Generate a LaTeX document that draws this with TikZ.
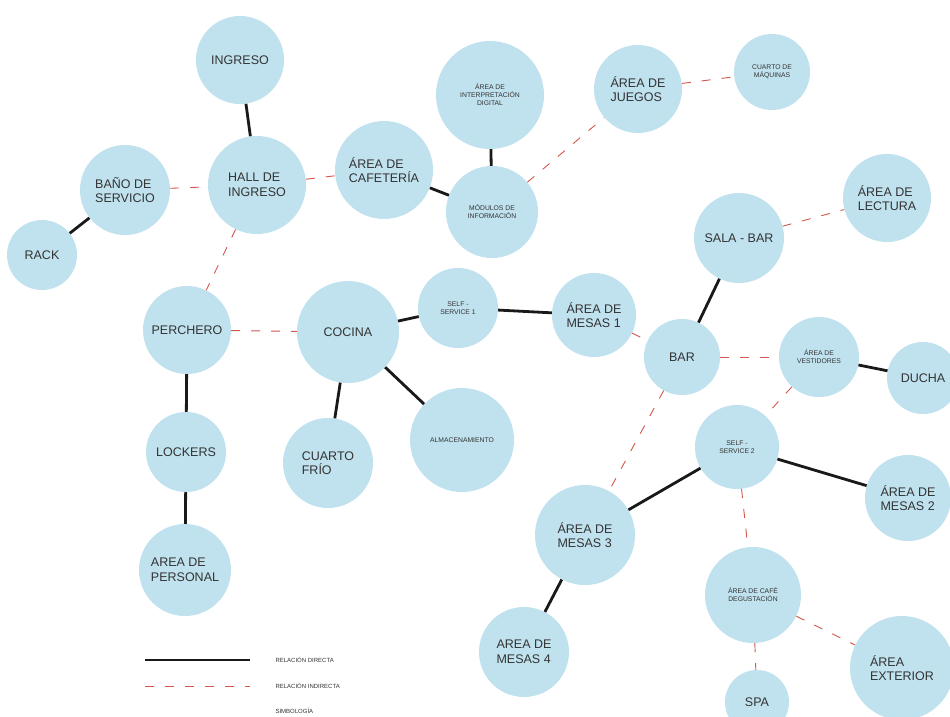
\documentclass[tikz,border=0pt]{standalone}
\usepackage{fontspec}
\setmainfont{Liberation Sans}
\definecolor{burbuja}{RGB}{192,226,238}
\definecolor{rojorel}{RGB}{212,86,76}

\begin{document}
\begin{tikzpicture}[x=1pt,y=-1pt]

\tikzset{zona/.style={fill=burbuja, shape=circle, draw=none, minimum size=#1, inner sep=0pt, align=left, text=black!80, font=\fontsize{12.5}{14.5}\selectfont}}
\tikzset{zonachica/.style={zona=#1, align=center, font=\fontsize{6.8}{8}\selectfont}}
\tikzset{directa/.style={line width=2.8, color=black!90}}
\tikzset{indirecta/.style={line width=0.9, color=rojorel, dash pattern=on 9pt off 11pt}}
\tikzset{leyenda/.style={anchor=west, text=black!80, font=\fontsize{6}{7}\selectfont}}

\useasboundingbox[fill=white] (0,0) rectangle (950,717);

\node[zona=88] (ingreso) at (240,60) {INGRESO};
\node[zona=90] (bano) at (125,190) {BAÑO DE\\SERVICIO};
\node[zona=70] (rack) at (42,255) {RACK};
\node[zona=98] (hall) at (257,185) {HALL DE\\INGRESO};
\node[zona=98] (cafeteria) at (384,170) {ÁREA DE\\CAFETERÍA};
\node[zonachica=108] (interp) at (490,95) {ÁREA DE\\INTERPRETACIÓN\\DIGITAL};
\node[zonachica=92] (modulos) at (492,212) {MÓDULOS DE\\INFORMACIÓN};
\node[zona=88] (juegos) at (638,89) {ÁREA DE\\JUEGOS};
\node[zonachica=76] (maquinas) at (772,72) {CUARTO DE\\MÁQUINAS};
\node[zona=88] (lectura) at (887,198) {ÁREA DE\\LECTURA};
\node[zona=90] (salabar) at (739,238) {SALA - BAR};
\node[zona=88] (perchero) at (187,330) {PERCHERO};
\node[zona=102] (cocina) at (348,332) {COCINA};
\node[zonachica=80] (self1) at (458,308) {SELF -\\SERVICE 1};
\node[zona=84] (mesas1) at (594,315) {ÁREA DE\\MESAS 1};
\node[zona=76] (bar) at (682,357) {BAR};
\node[zonachica=80] (vestidores) at (819,357) {ÁREA DE\\VESTIDORES};
\node[zona=72] (ducha) at (923,378) {DUCHA};
\node[zona=80] (lockers) at (186,452) {LOCKERS};
\node[zona=90] (frio) at (328,463) {CUARTO\\FRÍO};
\node[zonachica=104] (almacen) at (462,440) {ALMACENAMIENTO};
\node[zonachica=84] (self2) at (737,447) {SELF -\\SERVICE 2};
\node[zona=86] (mesas2) at (908,498) {ÁREA DE\\MESAS 2};
\node[zona=100] (mesas3) at (585,535) {ÁREA DE\\MESAS 3};
\node[zona=92] (personal) at (185,570) {AREA DE\\PERSONAL};
\node[zona=90] (mesas4) at (524,652) {AREA DE\\MESAS 4};
\node[zonachica=96] (cafe) at (753,595) {ÁREA DE CAFÉ\\DEGUSTACIÓN};
\node[zona=104] (exterior) at (902,668) {ÁREA\\EXTERIOR};
\node[zona=64] (spa) at (757,702) {SPA};

% relaciones directas
\draw[directa] (ingreso) -- (hall);
\draw[directa] (bano) -- (rack);
\draw[directa] (cafeteria) -- (modulos);
\draw[directa] (interp) -- (modulos);
\draw[directa] (perchero) -- (lockers);
\draw[directa] (lockers) -- (personal);
\draw[directa] (cocina) -- (self1);
\draw[directa] (self1) -- (mesas1);
\draw[directa] (cocina) -- (frio);
\draw[directa] (cocina) -- (almacen);
\draw[directa] (salabar) -- (bar);
\draw[directa] (vestidores) -- (ducha);
\draw[directa] (self2) -- (mesas3);
\draw[directa] (self2) -- (mesas2);
\draw[directa] (mesas3) -- (mesas4);

% relaciones indirectas
\draw[indirecta] (bano) -- (hall);
\draw[indirecta] (hall) -- (cafeteria);
\draw[indirecta] (hall) -- (perchero);
\draw[indirecta] (perchero) -- (cocina);
\draw[indirecta] (modulos) -- (juegos);
\draw[indirecta] (juegos) -- (maquinas);
\draw[indirecta] (salabar) -- (lectura);
\draw[indirecta] (mesas1) -- (bar);
\draw[indirecta] (bar) -- (vestidores);
\draw[indirecta] (bar) -- (mesas3);
\draw[indirecta] (vestidores) -- (self2);
\draw[indirecta] (self2) -- (cafe);
\draw[indirecta] (cafe) -- (spa);
\draw[indirecta] (cafe) -- (exterior);

% simbologia
\coordinate (ld1) at (145,660);
\coordinate (ld2) at (250,660);
\coordinate (li1) at (145,686);
\coordinate (li2) at (250,686);
\draw[directa] (ld1) -- (ld2);
\draw[indirecta] (li1) -- (li2);
\node[leyenda] (tdirecta) at (272,660) {RELACIÓN DIRECTA};
\node[leyenda] (tindirecta) at (272,686) {RELACIÓN INDIRECTA};
\node[leyenda] (tsimbolo) at (272,711) {SIMBOLOGÍA};

\end{tikzpicture}
\end{document}
